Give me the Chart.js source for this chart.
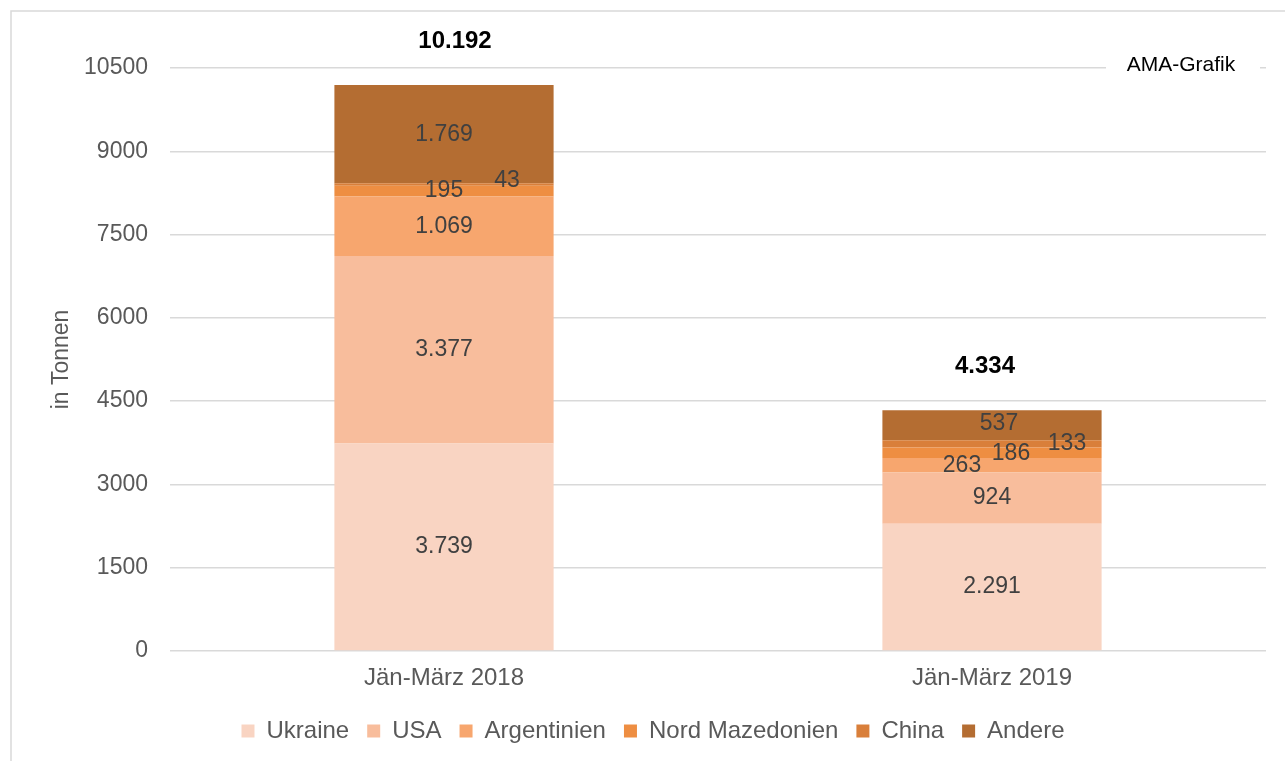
<!DOCTYPE html>
<html>
<head>
<meta charset="utf-8">
<script src="https://cdn.jsdelivr.net/npm/chart.js@4.4.1/dist/chart.umd.min.js"></script>
<style>
  html, body { margin: 0; padding: 0; background: #fff; }
  #wrap { width: 1285px; height: 761px; position: relative; }
</style>
</head>
<body>
<div id="wrap"><canvas id="myChart"></canvas></div>
<script>
const categories = ['Jän-März 2018', 'Jän-März 2019'];
const countries = ['Ukraine', 'USA', 'Argentinien', 'Nord Mazedonien', 'China', 'Andere'];
const ukraine = [3739, 2291];
const usa = [3377, 924];
const argentinien = [1069, 263];
const nordMazedonien = [195, 186];
const china = [43, 133];
const andere = [1769, 537];
const yTicks = [0, 1500, 3000, 4500, 6000, 7500, 9000, 10500];

const seriesValues = [ukraine, usa, argentinien, nordMazedonien, china, andere];
const colors = ['#F9D4C2', '#F8BD9C', '#F7A66E', '#EE8E42', '#D97F3A', '#B46D32'];

// label nudges [dx, dy] per series, per category (to mimic the original placement)
const nudge = [
    [[0, 0], [0, 0]],
    [[0, 0], [0, 0]],
    [[0, 0], [-30, 0]],
    [[0, 0], [19, 1]],
    [[63, -4], [75, 0]],
    [[0, 0], [7, -2]]
];
const totalNudge = [11, -7];

function fmt(v) {
    return String(v).replace(/\B(?=(\d{3})+(?!\d))/g, '.');
}

const font = 'Liberation Sans, Arial, sans-serif';

const decoPlugin = {
    id: 'deco',
    beforeDraw(chart) {
        const c = chart.ctx;
        c.save();
        c.fillStyle = '#fff';
        c.fillRect(0, 0, chart.width, chart.height);
        c.strokeStyle = '#d9d9d9';
        c.lineWidth = 1.5;
        c.beginPath();
        c.moveTo(11, chart.height + 5);
        c.lineTo(11, 11);
        c.lineTo(chart.width + 5, 11);
        c.stroke();
        c.restore();
    },
    afterDraw(chart) {
        const c = chart.ctx;
        const y = chart.scales.y;
        c.save();
        c.font = '23px ' + font;
        c.textAlign = 'center';
        c.textBaseline = 'middle';
        c.fillStyle = '#404040';
        chart.data.datasets.forEach((ds, i) => {
            const meta = chart.getDatasetMeta(i);
            meta.data.forEach((bar, j) => {
                const cy = (bar.y + bar.base) / 2;
                c.fillText(fmt(ds.data[j]), bar.x + nudge[i][j][0], cy + nudge[i][j][1]);
            });
        });
        c.font = 'bold 24px ' + font;
        c.fillStyle = '#000';
        categories.forEach((cat, j) => {
            let sum = 0;
            seriesValues.forEach(s => sum += s[j]);
            const bar = chart.getDatasetMeta(0).data[j];
            c.fillText(fmt(sum), bar.x + totalNudge[j], y.getPixelForValue(sum) - 44);
        });
        // AMA-Grafik label
        c.fillStyle = '#fff';
        c.fillRect(1106, 54, 154, 24);
        c.fillStyle = '#000';
        c.font = '21px ' + font;
        c.fillText('AMA-Grafik', 1181, 65);
        c.restore();
    }
};

const ctx = document.getElementById('myChart');

new Chart(ctx, {
    type: 'bar',
    data: {
        labels: categories,
        datasets: countries.map((name, i) => ({
            label: name,
            data: seriesValues[i],
            backgroundColor: colors[i],
            borderWidth: 0,
            barPercentage: 0.4,
            categoryPercentage: 1
        }))
    },
    options: {
        responsive: true,
        maintainAspectRatio: false,
        animation: false,
        devicePixelRatio: 1,
        layout: {
            padding: { left: 40, top: 68, right: 19, bottom: 8 }
        },
        plugins: {
            legend: {
                position: 'bottom',
                labels: {
                    boxWidth: 13,
                    boxHeight: 13,
                    padding: 18,
                    color: '#595959',
                    font: { family: font, size: 24 }
                }
            },
            tooltip: { enabled: false }
        },
        scales: {
            x: {
                stacked: true,
                afterFit(scale) { scale.height = 50; },
                grid: { display: false, drawTicks: false },
                border: { display: false },
                ticks: {
                    color: '#595959',
                    padding: 13,
                    font: { family: font, size: 24 }
                }
            },
            y: {
                stacked: true,
                min: 0,
                max: 10500,
                afterFit(scale) { scale.width = 130; },
                afterBuildTicks(scale) {
                    scale.ticks = yTicks.map(v => ({ value: v }));
                },
                grid: { color: '#d9d9d9', lineWidth: 1.5, drawTicks: false },
                border: { display: false },
                ticks: {
                    color: '#595959',
                    padding: 22,
                    font: { family: font, size: 23 },
                    callback: v => String(v)
                },
                title: {
                    display: true,
                    text: 'in Tonnen',
                    color: '#595959',
                    padding: { top: 8, bottom: 0 },
                    font: { family: font, size: 23 }
                }
            }
        }
    },
    plugins: [decoPlugin]
});
</script>
</body>
</html>
